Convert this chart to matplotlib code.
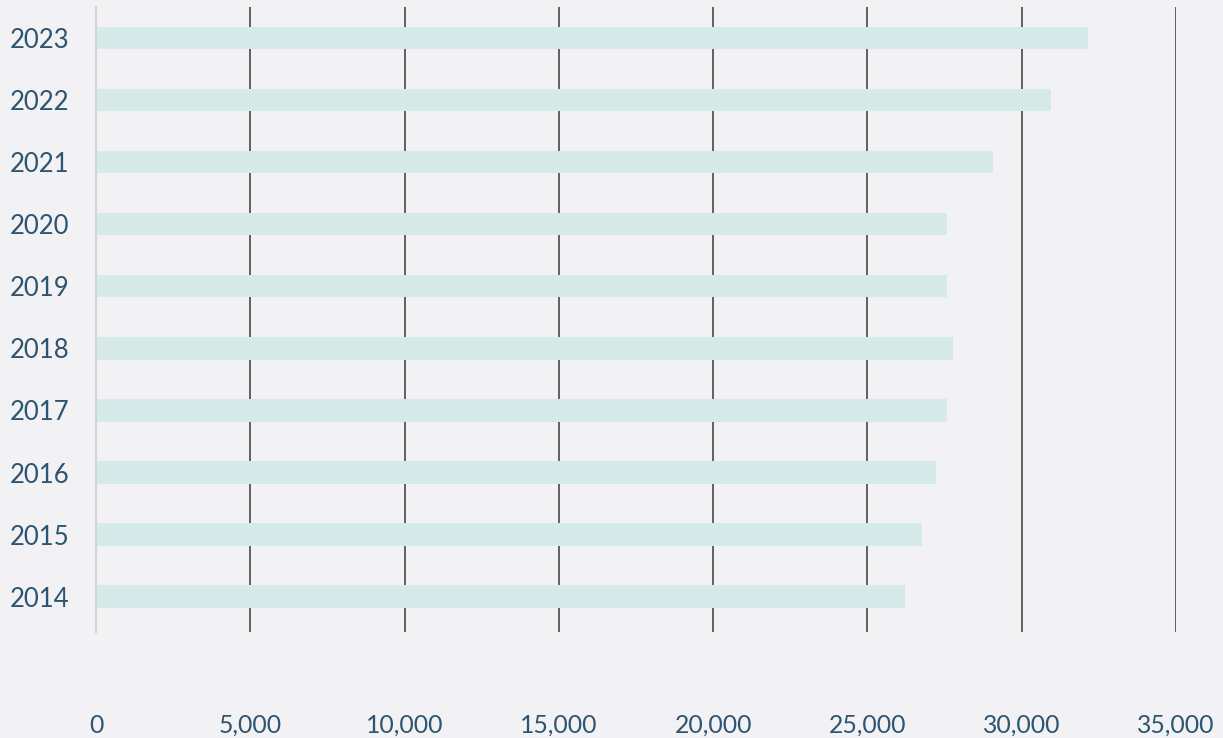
import matplotlib.pyplot as plt
from matplotlib.ticker import FuncFormatter

# 年ごとの値
years = ['2014', '2015', '2016', '2017', '2018', '2019', '2020', '2021', '2022', '2023']
values = [26220, 26770, 27220, 27580, 27760, 27570, 27570, 29070, 30940, 32150]

x_ticks = [0, 5000, 10000, 15000, 20000, 25000, 30000, 35000]

bg = '#f2f2f4'
bar_color = '#d6eaea'
text_color = '#2d5470'

plt.rcParams['font.family'] = ['Lato', 'DejaVu Sans']

fig = plt.figure(figsize=(12.23, 7.38), dpi=100, facecolor=bg)
ax = fig.add_axes([0.0785, 0.1436, 0.8831, 0.8469], facecolor=bg)

ax.barh(range(len(years)), values, height=0.36, color=bar_color, zorder=2)

ax.set_xlim(0, 35000)
ax.set_ylim(-0.57, 9.5)
ax.set_xticks(x_ticks)
ax.xaxis.set_major_formatter(FuncFormatter(lambda v, p: f'{int(v):,}'))
ax.set_yticks(range(len(years)))
ax.set_yticklabels(years)

# 縦グリッド線
ax.set_axisbelow(True)
ax.grid(axis='x', color='#555555', linewidth=1.3, zorder=1)
ax.grid(axis='y', visible=False)

for side in ['top', 'right', 'bottom']:
    ax.spines[side].set_visible(False)
ax.spines['left'].set_color('#d4d4d4')
ax.spines['left'].set_linewidth(1.5)

ax.tick_params(axis='x', length=0, pad=59, labelsize=17.8, labelcolor=text_color)
ax.tick_params(axis='y', length=0, pad=19, labelsize=18.5, labelcolor=text_color)

plt.savefig('out.png', dpi=100, facecolor=bg)
